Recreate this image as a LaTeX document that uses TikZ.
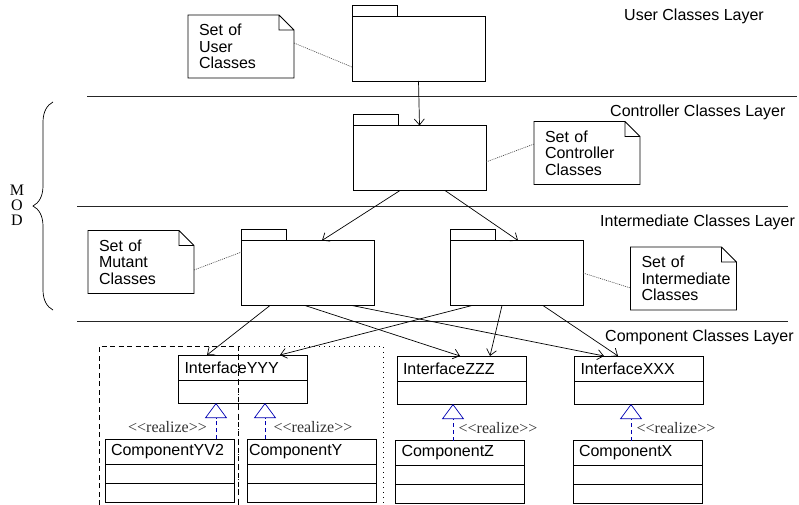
\documentclass[tikz,border=0pt]{standalone}
\usepackage{fontspec}
\setmainfont{Liberation Serif}
\setsansfont{Liberation Sans}
\usetikzlibrary{arrows.meta,decorations.pathreplacing}

\tikzset{
  lbl/.style={font=\sffamily\fontsize{16}{16.5}\selectfont, inner sep=0pt},
  layer/.style={line width=0.9pt, black!85},
  pkg/.style={draw, line width=0.8pt, minimum width=133pt, minimum height=65pt, outer sep=0pt},
  pkgtab/.style={draw, line width=0.8pt, minimum width=45pt, minimum height=11pt, anchor=south west, outer sep=0pt},
  note/.style={minimum width=106pt, minimum height=63pt, inner xsep=11pt, text width=84pt, align=left,
    font=\sffamily\fontsize{16}{16.5}\selectfont, outer sep=0pt},
  noteline/.style={dash pattern=on 1pt off 1pt, line width=0.6pt, black!75},
  dep/.style={line width=0.7pt, -{Straight Barb[length=6pt,width=10pt]}},
  cls/.style={draw, line width=0.8pt, minimum height=25pt, inner xsep=6pt, text width=117pt, align=left,
    font=\sffamily\fontsize{16}{16.5}\selectfont, outer sep=0pt},
  clspart/.style={draw, line width=0.8pt, minimum width=129pt, minimum height=19pt, anchor=north, outer sep=0pt},
  realize/.style={dash pattern=on 4pt off 3pt, line width=0.7pt, blue!70!black,
    -{Triangle[open, length=15pt, width=22pt]}},
  stereo/.style={font=\rmfamily\fontsize{16}{16}\selectfont, black!80, inner sep=0pt},
}

\begin{document}
\begin{tikzpicture}[x=1pt, y=-1pt]
  \useasboundingbox (0,0) rectangle (799,505);

  % layers
  \draw[layer] (87,96.5) -- (797,96.5);
  \draw[layer] (77,206) -- (788,206);
  \draw[layer] (77,321.5) -- (788,321.5);
  \node[lbl, anchor=base west] (l-user) at (624,20.5) {User Classes Layer};
  \node[lbl, anchor=base west] (l-ctrl) at (610,117) {Controller Classes Layer};
  \node[lbl, anchor=base west] (l-inter) at (600,226.5) {Intermediate Classes Layer};
  \node[lbl, anchor=base west] (l-comp) at (605,341) {Component Classes Layer};

  % brace
  \draw[line width=0.7pt, decorate, decoration={brace, amplitude=20pt}] (53,310) -- (53,102);
  \node[font=\rmfamily\fontsize{16}{15}\selectfont, align=center, inner sep=0pt] (mod) at (17,205) {M\\O\\D};

  % packages
  \node[pkg] (user) at (418.5,48.5) {};
  \node[pkgtab] (user-tab) at (user.north west) {};
  \node[pkg] (ctrl) at (419.5,158) {};
  \node[pkgtab] (ctrl-tab) at (ctrl.north west) {};
  \node[pkg] (mpkg) at (308,273) {};
  \node[pkgtab] (mpkg-tab) at (mpkg.north west) {};
  \node[pkg] (ipkg) at (516.5,273) {};
  \node[pkgtab] (ipkg-tab) at (ipkg.north west) {};

  % notes
  \node[note] (unote) at (241,46.5) {Set of\\User\\Classes};
  \node[note] (cnote) at (587,153) {Set of\\Controller\\Classes};
  \node[note] (mnote) at (141,262) {Set of\\Mutant\\Classes};
  \node[note] (inote) at (683.5,278.5) {Set of\\\mbox{Intermediate}\\Classes};
  \foreach \n in {unote,cnote,mnote,inote}{
    \draw[line width=0.8pt] (\n.north west) -- ([xshift=-15pt]\n.north east)
      -- ([yshift=-15pt]\n.north east) -- (\n.south east) -- (\n.south west) -- cycle
      ([xshift=-15pt]\n.north east) |- ([yshift=-15pt]\n.north east);
  }
  \draw[noteline] ([yshift=3.5pt]unote.east) -- ([yshift=-18.5pt]user.west);
  \draw[noteline] ([yshift=-4pt]ctrl.east) -- ([yshift=9pt]cnote.west);
  \draw[noteline] ([yshift=-8pt]mnote.east) -- ([yshift=21pt]mpkg.west);
  \draw[noteline] (ipkg.east) -- ([yshift=-9.5pt]inote.west);

  % interfaces
  \node[cls] (iyyy) at (243,367.5) {InterfaceYYY};
  \node[clspart, minimum height=23pt] (iyyy-b) at (iyyy.south) {};
  \node[cls] (izzz) at (461.5,368.5) {InterfaceZZZ};
  \node[clspart, minimum height=23pt] (izzz-b) at (izzz.south) {};
  \node[cls] (ixxx) at (639,368.5) {InterfaceXXX};
  \node[clspart, minimum height=23pt] (ixxx-b) at (ixxx.south) {};

  % components
  \node[cls] (cyv2) at (169.5,451.5) {ComponentYV2};
  \node[clspart] (cyv2-b) at (cyv2.south) {};
  \node[clspart] (cyv2-c) at (cyv2-b.south) {};
  \node[cls, inner xsep=2pt, text width=125pt] (cy) at (311.5,451.5) {ComponentY};
  \node[clspart] (cy-b) at (cy.south) {};
  \node[clspart] (cy-c) at (cy-b.south) {};
  \node[cls] (cz) at (460,453) {ComponentZ};
  \node[clspart] (cz-b) at (cz.south) {};
  \node[clspart] (cz-c) at (cz-b.south) {};
  \node[cls] (cx) at (637.5,453) {ComponentX};
  \node[clspart] (cx-b) at (cx.south) {};
  \node[clspart] (cx-c) at (cx-b.south) {};

  % frames around the two YYY versions
  \draw[line width=0.7pt, dash pattern=on 5pt off 3.5pt] (99,505) |- (238,346) -- (238,505);
  \draw[line width=0.7pt, dash pattern=on 1pt off 4pt] (238,505) |- (383,346) -- (383,505);

  % dependencies
  \draw[dep] (user.south) -- (ctrl.north);
  \draw[dep] ([xshift=-19.5pt]ctrl.south) -- ([xshift=14pt]mpkg.north);
  \draw[dep] ([xshift=25.5pt]ctrl.south) -- ([xshift=1.5pt]ipkg.north);
  \draw[dep] ([xshift=-38pt]mpkg.south) -- ([xshift=-36pt]iyyy.north);
  \draw[dep] ([xshift=-3pt]mpkg.south) -- ([xshift=-1.5pt]izzz.north);
  \draw[dep] ([xshift=44pt]mpkg.south) -- ([xshift=-35pt]ixxx.north);
  \draw[dep] ([xshift=-44.5pt]ipkg.south) -- ([xshift=37pt]iyyy.north);
  \draw[dep] ([xshift=-14.5pt]ipkg.south) -- ([xshift=28.5pt]izzz.north);
  \draw[dep] ([xshift=26.5pt]ipkg.south) -- ([xshift=-21pt]ixxx.north);

  % realizations
  \draw[realize] ([xshift=46.5pt]cyv2.north) -- ([xshift=-27pt]iyyy-b.south);
  \draw[realize] ([xshift=-46.5pt]cy.north) -- ([xshift=22pt]iyyy-b.south);
  \draw[realize] ([xshift=-7pt]cz.north) -- ([xshift=-8.5pt]izzz-b.south);
  \draw[realize] ([xshift=-6.5pt]cx.north) -- ([xshift=-8pt]ixxx-b.south);
  \node[stereo] (r-yv2) at (167.5,427) {<\kern0pt<realize>\kern0pt>};
  \node[stereo] (r-y) at (313,427) {<\kern0pt<realize>\kern0pt>};
  \node[stereo] (r-z) at (498,428) {<\kern0pt<realize>\kern0pt>};
  \node[stereo] (r-x) at (676,428) {<\kern0pt<realize>\kern0pt>};
\end{tikzpicture}
\end{document}
